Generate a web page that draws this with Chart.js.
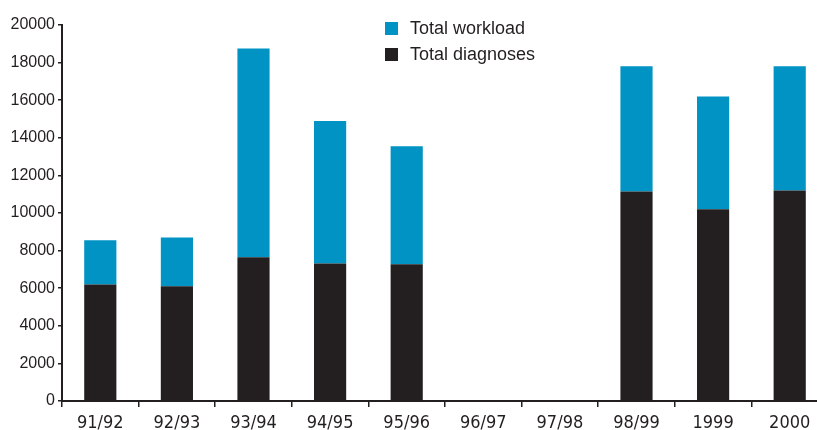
<!DOCTYPE html>
<html>
<head>
<meta charset="utf-8">
<script src="https://cdn.jsdelivr.net/npm/chart.js@4/dist/chart.umd.min.js"></script>
<style>
    html, body { margin: 0; padding: 0; background: #fff; overflow: hidden; }
    #wrap { position: relative; width: 817px; height: 430px; overflow: hidden; }
    #chartBox { position: absolute; left: 0; top: 0; width: 830px; height: 430px; }
    #legend { position: absolute; left: 385px; top: 17px; font-family: "Liberation Sans", Arial, sans-serif; font-size: 18px; color: #231f20; }
    #legend div { height: 26px; line-height: 22px; }
    #legend span.sw { display: inline-block; width: 13px; height: 13px; margin-right: 12px; vertical-align: -1px; }
</style>
</head>
<body>
<div id="wrap">
    <div id="chartBox"><canvas id="workloadChart" width="830" height="430"></canvas></div>
    <div id="legend">
        <div><span class="sw" style="background:#0093c4"></span>Total workload</div>
        <div><span class="sw" style="background:#231f20"></span>Total diagnoses</div>
    </div>
</div>
<script>
    const years = ['91/92', '92/93', '93/94', '94/95', '95/96', '96/97', '97/98', '98/99', '1999', '2000'];
    const totalWorkload = [8550, 8700, 18750, 14900, 13550, null, null, 17800, 16200, 17800];
    const totalDiagnoses = [6200, 6100, 7650, 7320, 7270, null, null, 11150, 10200, 11200];
    const yTicks = [0, 2000, 4000, 6000, 8000, 10000, 12000, 14000, 16000, 18000, 20000];

    const ink = '#231f20';
    const blue = '#0093c4';

    // blue segment sits on top of the diagnoses so the stack reaches the workload total
    const workloadExtra = totalWorkload.map((v, i) => v == null ? null : v - totalDiagnoses[i]);

    const ctx = document.getElementById('workloadChart');

    new Chart(ctx, {
        type: 'bar',
        data: {
            labels: years,
            datasets: [
                {
                    label: 'Total diagnoses',
                    data: totalDiagnoses,
                    backgroundColor: ink,
                    barPercentage: 0.42,
                    categoryPercentage: 1
                },
                {
                    label: 'Total workload',
                    data: workloadExtra,
                    backgroundColor: blue,
                    barPercentage: 0.42,
                    categoryPercentage: 1
                }
            ]
        },
        options: {
            responsive: false,
            animation: false,
            layout: { padding: { top: 25, right: 2, left: 0, bottom: 0 } },
            plugins: {
                legend: { display: false },
                tooltip: { enabled: false }
            },
            scales: {
                x: {
                    stacked: true,
                    afterFit: (scale) => { scale.height = 29; },
                    border: { color: ink, width: 2 },
                    grid: {
                        offset: true,
                        drawOnChartArea: false,
                        drawTicks: true,
                        tickLength: 6,
                        tickColor: ink,
                        lineWidth: 1.5
                    },
                    ticks: {
                        color: ink,
                        padding: 6,
                        maxRotation: 0,
                        autoSkip: false,
                        font: { family: '"Liberation Sans Narrow", "DejaVu Sans Condensed", sans-serif', size: 18 }
                    }
                },
                y: {
                    stacked: true,
                    min: 0,
                    max: 20000,
                    afterFit: (scale) => { scale.width = 62; },
                    afterBuildTicks: (scale) => { scale.ticks = yTicks.map(v => ({ value: v })); },
                    border: { color: ink, width: 2 },
                    grid: {
                        drawOnChartArea: false,
                        drawTicks: true,
                        tickLength: 4,
                        tickColor: ink,
                        lineWidth: 1.5
                    },
                    ticks: {
                        color: ink,
                        padding: 3,
                        callback: (value) => String(value),
                        font: { family: '"Liberation Sans", Arial, sans-serif', size: 16 }
                    }
                }
            }
        }
    });
</script>
</body>
</html>
